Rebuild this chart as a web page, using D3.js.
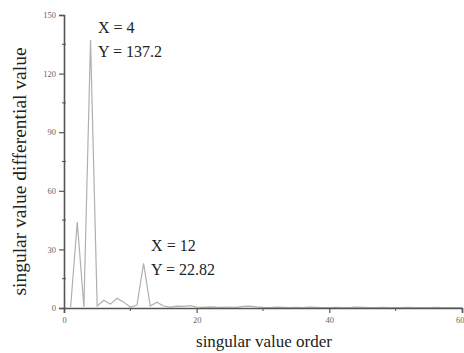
<!DOCTYPE html>
<html>
<head>
<meta charset="UTF-8" />
<script src="https://d3js.org/d3.v7.min.js"></script>
<style>
  body { margin: 0; background: #fff; }
</style>
</head>
<body>
<svg id="chart" width="464" height="353"></svg>
<script>
// singular value order (x) and differential value (y)
const orders = d3.range(1, 61);
const diffValues = [
  0.5, 44, 0.5, 137.2, 1, 4, 2, 5, 3, 0.5,
  1.5, 22.82, 1, 3, 1, 0.5, 1, 0.8, 1.2, 0.5,
  0.3, 0.6, 0.4, 0.3, 0.5, 0.3, 0.8, 1, 0.6, 0.3,
  0.2, 0.4, 0.3, 0.2, 0.3, 0.2, 0.4, 0.3, 0.2, 0.2,
  0.3, 0.2, 0.2, 0.4, 0.3, 0.2, 0.2, 0.3, 0.2, 0.2,
  0.2, 0.3, 0.2, 0.2, 0.2, 0.3, 0.2, 0.2, 0.2, 0.2
];
const xTicks = [0, 20, 40, 60];
const xMinor = [10, 30, 50];
const yTicks = [0, 30, 60, 90, 120, 150];
const yMinor = [15, 45, 75, 105, 135];
const notes = [
  { x: 4, y: 137.2, top: 33, lines: ["X = 4", "Y = 137.2"] },
  { x: 12, y: 22.82, top: 251, lines: ["X = 12", "Y = 22.82"] }
];

const serif = '"Liberation Serif", "DejaVu Serif", "Times New Roman", serif';
const svg = d3.select('#chart').attr('font-family', serif);
const x = d3.scaleLinear().domain([0, 60]).range([64, 462]);
const y = d3.scaleLinear().domain([0, 150]).range([308, 15]);
const axisColor = '#555';

// data line
const data = orders.map((o, i) => ({ x: o, y: diffValues[i] }));
svg.append('path')
  .datum(data)
  .attr('fill', 'none')
  .attr('stroke', '#b0b0b0')
  .attr('stroke-width', 1.2)
  .attr('d', d3.line().x(d => x(d.x)).y(d => y(d.y)));

// y axis
const yAxis = svg.append('g').attr('transform', `translate(${x(0)},0)`)
  .call(d3.axisLeft(y).tickValues(yTicks).tickSize(5).tickPadding(3).tickFormat(d3.format('d')));
yAxis.attr('font-family', serif);
yAxis.select('.domain').attr('stroke', axisColor).attr('stroke-width', 1.6);
yAxis.selectAll('.tick line').attr('stroke', axisColor).attr('stroke-width', 1.2);
yAxis.selectAll('.tick text').attr('fill', '#666').attr('font-size', 8.5);
yAxis.selectAll('line.minor').data(yMinor).join('line').attr('class', 'minor')
  .attr('x1', -2).attr('x2', 2).attr('y1', d => y(d)).attr('y2', d => y(d))
  .attr('stroke', axisColor).attr('stroke-width', 1);

// x axis
const xAxis = svg.append('g').attr('transform', `translate(0,${y(0)})`)
  .call(d3.axisBottom(x).tickValues(xTicks).tickSize(5).tickPadding(4).tickFormat(d3.format('d')));
xAxis.attr('font-family', serif);
xAxis.select('.domain').attr('stroke', axisColor).attr('stroke-width', 1.6);
xAxis.selectAll('.tick line').attr('stroke', axisColor).attr('stroke-width', 1.2);
xAxis.selectAll('.tick text').attr('fill', '#666').attr('font-size', 8.5)
  .filter(d => d === 60).attr('text-anchor', 'end').attr('dx', 2);
xAxis.selectAll('line.minor').data(xMinor).join('line').attr('class', 'minor')
  .attr('y1', 0).attr('y2', 3).attr('x1', d => x(d)).attr('x2', d => x(d))
  .attr('stroke', axisColor).attr('stroke-width', 1);

// axis titles
svg.append('text')
  .attr('x', 264).attr('y', 347)
  .attr('text-anchor', 'middle')
  .attr('font-size', 17).attr('fill', '#222')
  .text('singular value order');
svg.append('text')
  .attr('transform', `translate(26,${y(75) + 10}) rotate(-90)`)
  .attr('text-anchor', 'middle')
  .attr('font-size', 19.5).attr('fill', '#222')
  .text('singular value differential value');

// peak annotations
notes.forEach(n => {
  const g = svg.append('g');
  n.lines.forEach((t, i) => {
    g.append('text')
      .attr('x', x(n.x) + 7.5).attr('y', n.top + i * 24)
      .attr('font-size', 16).attr('fill', '#222')
      .text(t);
  });
});
</script>
</body>
</html>
